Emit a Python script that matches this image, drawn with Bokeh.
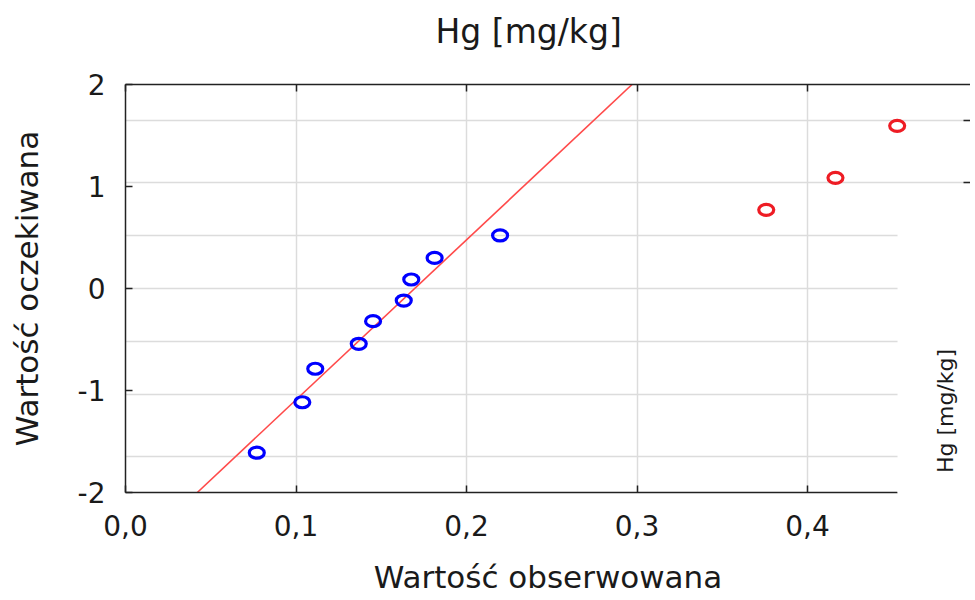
import math
from bokeh.plotting import figure
from bokeh.models import Range1d, LinearAxis, FixedTicker, BoxAnnotation, Label
from bokeh.embed import file_html
from bokeh.resources import INLINE

# ---- data ----
obs_blue = [0.077, 0.1037, 0.1113, 0.1368, 0.1452, 0.1632, 0.1676, 0.1813, 0.2197]
exp_blue = [-1.61, -1.115, -0.787, -0.542, -0.32, -0.118, 0.088, 0.30, 0.52]
obs_red = [0.3758, 0.4164, 0.4526]
exp_red = [0.771, 1.085, 1.595]
fit_x = [0.0421, 0.2971]
fit_y = [-2.0, 2.0]
x_ticks = [0.0, 0.1, 0.2, 0.3, 0.4]
x_tick_labels = ["0,0", "0,1", "0,2", "0,3", "0,4"]
y_ticks = [-2, -1, 0, 1, 2]
y_tick_labels = ["-2", "-1", "0", "1", "2"]
prob_grid = [-1.645, -1.036, -0.524, 0.0, 0.524, 1.036, 1.645]

title_text = "Hg [mg/kg]"
x_label = "Wartość obserwowana"
y_label = "Wartość oczekiwana"
side_label = "Hg  [mg/kg]"

FONT = "DejaVu Sans"
TXT = "#1a1a1a"

p = figure(frame_width=845, frame_height=408,
           x_range=Range1d(0, 0.4956), y_range=Range1d(-2, 2),
           output_backend="svg", toolbar_location=None,
           min_border_left=125, min_border_right=0, min_border_top=84,
           min_border_bottom=0,
           x_axis_label=x_label, y_axis_label=y_label)
p.outline_line_color = None
p.background_fill_color = "white"

# title
p.title.text = title_text
p.title.align = "left"
p.title.offset = 310
p.title.text_font = FONT
p.title.text_font_size = "33px"
p.title.text_font_style = "normal"
p.title.text_color = TXT

# axes styling
for ax in (p.xaxis[0], p.yaxis[0]):
    ax.axis_line_color = "#222222"
    ax.axis_line_width = 1.5
    ax.major_tick_line_color = "#222222"
    ax.major_tick_line_width = 1.5
    ax.major_tick_in = 7
    ax.major_tick_out = 0
    ax.minor_tick_line_color = None
    ax.major_label_text_font = FONT
    ax.major_label_text_font_size = "28px"
    ax.major_label_text_color = TXT
    ax.axis_label_text_font = FONT
    ax.axis_label_text_font_size = "31px"
    ax.axis_label_text_font_style = "normal"
    ax.axis_label_text_color = TXT

p.xaxis[0].ticker = FixedTicker(ticks=x_ticks)
p.xaxis[0].major_label_overrides = {t: s for t, s in zip(x_ticks, x_tick_labels)}
p.xaxis[0].major_label_standoff = 22
p.xaxis[0].axis_label_standoff = 20
p.xaxis[0].bounds = (0, obs_red[-1])
p.yaxis[0].ticker = FixedTicker(ticks=y_ticks)
p.yaxis[0].major_label_overrides = {t: s for t, s in zip(y_ticks, y_tick_labels)}
p.yaxis[0].major_label_standoff = 20
p.yaxis[0].axis_label_standoff = 30

# top axis (ticks only); a blank axis label leaves room under the title
top_ax = LinearAxis(ticker=FixedTicker(ticks=x_ticks), major_tick_in=7, major_tick_out=0,
                    axis_line_color="#222222", axis_line_width=1.5,
                    major_tick_line_color="#222222", major_tick_line_width=1.5,
                    minor_tick_line_color=None, major_label_text_alpha=0,
                    major_label_text_font_size="1px", major_label_standoff=0,
                    axis_label=" ", axis_label_text_font_size="20px",
                    axis_label_standoff=4, axis_label_text_alpha=0)
p.add_layout(top_ax, "above")

# right axis (probability ticks only)
right_ax = LinearAxis(ticker=FixedTicker(ticks=prob_grid), major_tick_in=7, major_tick_out=0,
                      axis_line_color=None,
                      major_tick_line_color="#222222", major_tick_line_width=1.5,
                      minor_tick_line_color=None, major_label_text_alpha=0,
                      major_label_text_font_size="1px", major_label_standoff=0)
p.add_layout(right_ax, "right")

# grids
p.xgrid.ticker = FixedTicker(ticks=x_ticks)
p.ygrid.ticker = FixedTicker(ticks=prob_grid)
for g in (p.xgrid[0], p.ygrid[0]):
    g.grid_line_color = "#dcdcdc"
    g.grid_line_width = 1.5

# fit line
p.line(fit_x, fit_y, line_color="#ff4a4a", line_width=1.6)

# points
p.ellipse(x=obs_blue, y=exp_blue, width=15, height=11, width_units="screen",
          height_units="screen", fill_color=None, line_color="#0000ff", line_width=3.2)
p.ellipse(x=obs_red, y=exp_red, width=15, height=11, width_units="screen",
          height_units="screen", fill_color=None, line_color="#ee1c24", line_width=3.2)

# white panel covering the lower right part
box = BoxAnnotation(left=0.4528, right=1.0, top=0.81, bottom=-6.0,
                    fill_color="white", fill_alpha=1.0, line_color=None, level="overlay")
p.add_layout(box)

lab = Label(x=0.4807, y=-1.167, text=side_label, angle=math.pi / 2,
            text_align="center", text_baseline="middle", text_font=FONT,
            text_font_size="22px", text_color=TXT, level="overlay")
p.add_layout(lab)

open("out.html", "w").write(file_html(p, INLINE))
